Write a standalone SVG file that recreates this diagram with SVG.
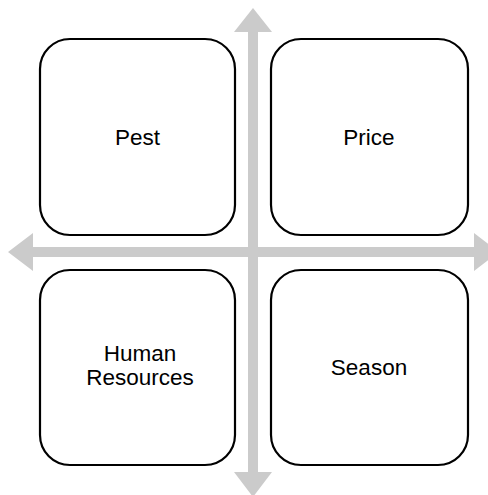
<svg xmlns="http://www.w3.org/2000/svg" width="488" height="495" viewBox="0 0 488 495">
  <style>
    .box { fill: #ffffff; stroke: #000000; stroke-width: 2.2; }
    .axis { fill: #cbcbcb; stroke: none; }
    .label { font-family: "Liberation Sans", Arial, sans-serif; font-size: 22.5px; fill: #000000; text-anchor: middle; }
  </style>
  <rect width="488" height="495" fill="#ffffff"/>

  <!-- double-headed axis arrows -->
  <g id="connectors">
    <polygon class="axis" points="253,8 272,32 258,32 258,472 272,472 253,497 234,472 248,472 248,32 234,32"/>
    <polygon class="axis" points="8,252 33,233 33,247 474,247 474,233 499,252 474,271 474,257 33,257 33,271"/>
  </g>

  <g id="pest">
    <rect class="box" x="40" y="39" width="195" height="196" rx="30" ry="30"/>
    <text class="label" x="137.5" y="145">Pest</text>
  </g>

  <g id="price">
    <rect class="box" x="271" y="39" width="197" height="196" rx="30" ry="30"/>
    <text class="label" x="369" y="145">Price</text>
  </g>

  <g id="human-resources">
    <rect class="box" x="40" y="270" width="195" height="195" rx="30" ry="30"/>
    <text class="label" x="140" y="361">Human</text>
    <text class="label" x="140" y="385">Resources</text>
  </g>

  <g id="season">
    <rect class="box" x="271" y="270" width="197" height="195" rx="30" ry="30"/>
    <text class="label" x="369" y="375">Season</text>
  </g>
</svg>
